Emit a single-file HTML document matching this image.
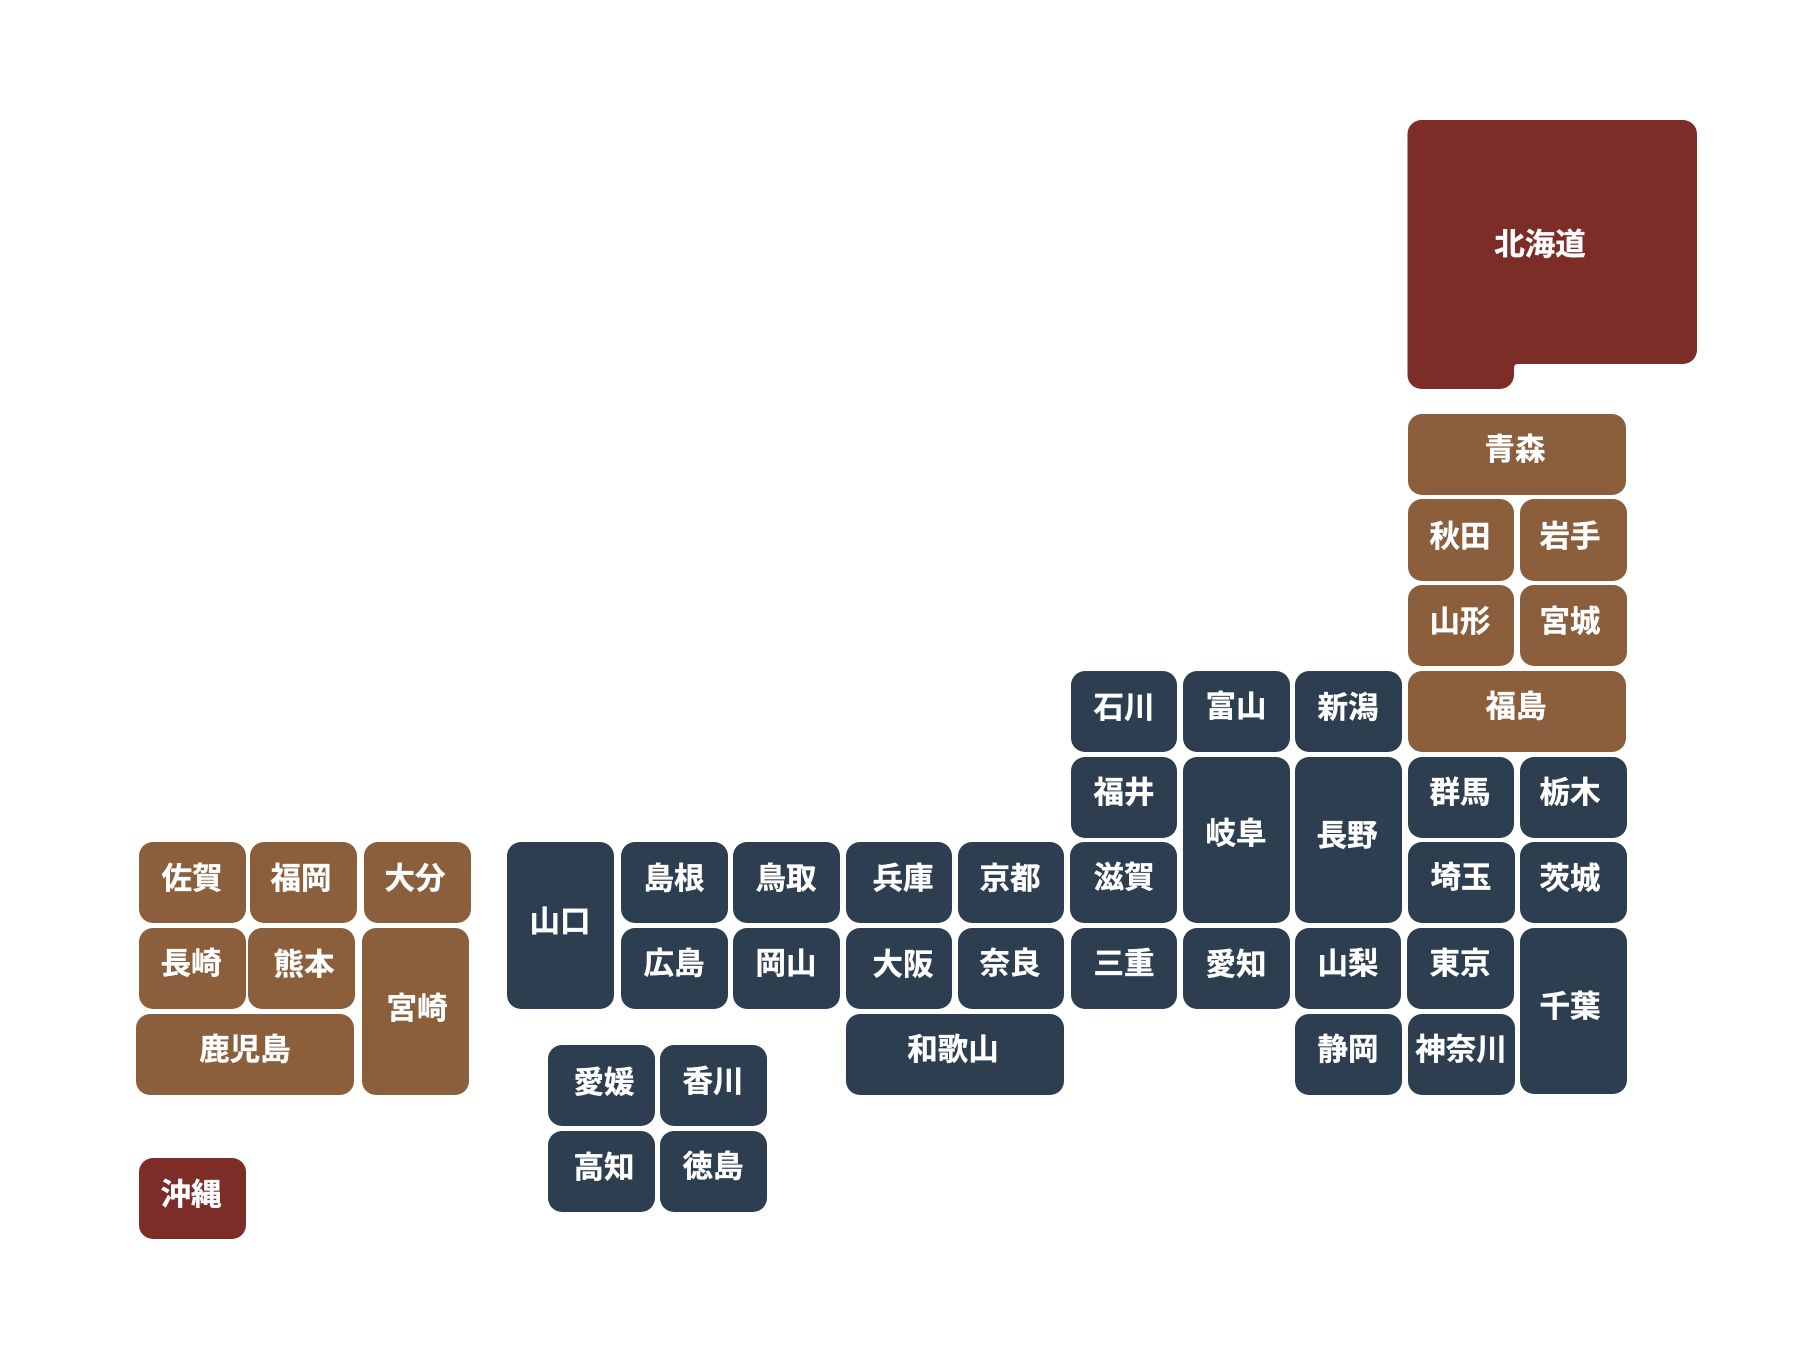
<!DOCTYPE html>
<html lang="ja">
<head>
<meta charset="utf-8">
<title>日本地図</title>
<style>
html,body{margin:0;padding:0;background:#fff;width:1804px;height:1353px;overflow:hidden}
svg{display:block}
text{font-family:"Liberation Sans","Noto Sans CJK JP",sans-serif;font-size:30.5px;font-weight:700;fill:#fff;stroke:#fff;stroke-width:.35px;text-anchor:middle}
.n{fill:#2c3e50}.b{fill:#8b5e3c}.r{fill:#7d2d27}
rect{rx:14px;ry:14px}
</style>
</head>
<body>
<svg xmlns="http://www.w3.org/2000/svg" width="1804" height="1353" viewBox="0 0 1804 1353">
<rect width="1804" height="1353" fill="#fff" style="rx:0;ry:0"/>

<path class="r" d="M1421.5 120H1683A14 14 0 0 1 1697 134V350A14 14 0 0 1 1683 364H1518Q1514 364 1514 368V375A14 14 0 0 1 1500 389H1421.5A14 14 0 0 1 1407.5 375V134A14 14 0 0 1 1421.5 120Z"/>
<text x="1540" y="255">北海道</text>

<rect class="b" x="1408" y="414" width="218" height="81"/><text x="1515" y="460">青森</text>
<rect class="b" x="1408" y="499" width="106" height="82"/><text x="1460" y="547">秋田</text>
<rect class="b" x="1520" y="499" width="107" height="82"/><text x="1570" y="547">岩手</text>
<rect class="b" x="1408" y="585" width="106" height="81"/><text x="1460" y="632">山形</text>
<rect class="b" x="1520" y="585" width="107" height="81"/><text x="1570" y="632">宮城</text>
<rect class="b" x="1408" y="671" width="218" height="81"/><text x="1516" y="717">福島</text>

<rect class="n" x="1408" y="757" width="106" height="81"/><text x="1460" y="803">群馬</text>
<rect class="n" x="1520" y="757" width="107" height="81"/><text x="1570" y="803">栃木</text>
<rect class="n" x="1408" y="842" width="107" height="81"/><text x="1461" y="888">埼玉</text>
<rect class="n" x="1520" y="842" width="107" height="81"/><text x="1570" y="889">茨城</text>
<rect class="n" x="1295" y="671" width="107" height="81"/><text x="1348" y="718">新潟</text>
<rect class="n" x="1295" y="757" width="107" height="166"/><text x="1347" y="846">長野</text>
<rect class="n" x="1295" y="928" width="106" height="81"/><text x="1348" y="974">山梨</text>
<rect class="n" x="1295" y="1014" width="107" height="81"/><text x="1348" y="1060">静岡</text>
<rect class="n" x="1407" y="928" width="107" height="81"/><text x="1460" y="974">東京</text>
<rect class="n" x="1408" y="1014" width="107" height="81"/><text x="1461" y="1060">神奈川</text>
<rect class="n" x="1520" y="928" width="107" height="166"/><text x="1570" y="1017">千葉</text>

<rect class="n" x="1071" y="671" width="106" height="81"/><text x="1124" y="718">石川</text>
<rect class="n" x="1183" y="671" width="107" height="81"/><text x="1236" y="717">富山</text>
<rect class="n" x="1071" y="757" width="106" height="81"/><text x="1124" y="803">福井</text>
<rect class="n" x="1183" y="757" width="107" height="166"/><text x="1236" y="844">岐阜</text>
<rect class="n" x="1070" y="842" width="107" height="81"/><text x="1124" y="888">滋賀</text>
<rect class="n" x="1071" y="928" width="106" height="81"/><text x="1124" y="974">三重</text>
<rect class="n" x="1183" y="928" width="107" height="81"/><text x="1236" y="975">愛知</text>

<rect class="n" x="846" y="842" width="106" height="81"/><text x="903" y="889">兵庫</text>
<rect class="n" x="958" y="842" width="106" height="81"/><text x="1010" y="889">京都</text>
<rect class="n" x="846" y="928" width="106" height="81"/><text x="903" y="975">大阪</text>
<rect class="n" x="958" y="928" width="106" height="81"/><text x="1010" y="974">奈良</text>
<rect class="n" x="846" y="1014" width="218" height="81"/><text x="953" y="1060">和歌山</text>

<rect class="n" x="507" y="842" width="107" height="167"/><text x="560" y="932">山口</text>
<rect class="n" x="621" y="842" width="107" height="81"/><text x="674" y="889">島根</text>
<rect class="n" x="733" y="842" width="107" height="81"/><text x="786" y="889">鳥取</text>
<rect class="n" x="621" y="928" width="107" height="81"/><text x="674" y="974">広島</text>
<rect class="n" x="733" y="928" width="107" height="81"/><text x="786" y="974">岡山</text>

<rect class="n" x="548" y="1045" width="107" height="81"/><text x="604" y="1093">愛媛</text>
<rect class="n" x="660" y="1045" width="107" height="81"/><text x="713" y="1092">香川</text>
<rect class="n" x="548" y="1131" width="107" height="81"/><text x="604" y="1178">高知</text>
<rect class="n" x="660" y="1131" width="107" height="81"/><text x="713" y="1177">徳島</text>

<rect class="b" x="139" y="842" width="107" height="81"/><text x="192" y="889">佐賀</text>
<rect class="b" x="250" y="842" width="107" height="81"/><text x="301" y="889">福岡</text>
<rect class="b" x="364" y="842" width="107" height="81"/><text x="415" y="889">大分</text>
<rect class="b" x="139" y="928" width="107" height="81"/><text x="191" y="974">長崎</text>
<rect class="b" x="248" y="928" width="107" height="81"/><text x="304" y="975">熊本</text>
<rect class="b" x="362" y="928" width="107" height="167"/><text x="417" y="1019">宮崎</text>
<rect class="b" x="136" y="1014" width="218" height="81"/><text x="245" y="1060">鹿児島</text>

<rect class="r" x="139" y="1158" width="107" height="81"/><text x="191" y="1205">沖縄</text>
</svg>
</body>
</html>
